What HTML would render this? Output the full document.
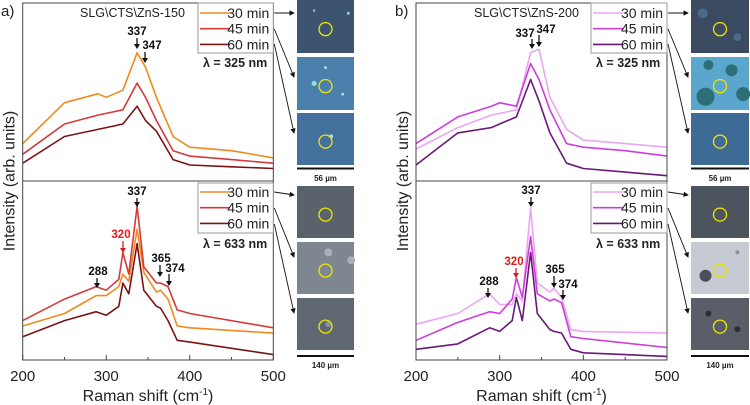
<!DOCTYPE html>
<html><head><meta charset="utf-8"><style>
html,body{margin:0;padding:0;background:#fff}
svg{display:block;font-family:"Liberation Sans",sans-serif}
</style></head><body>
<svg id="fig" width="750" height="405" viewBox="0 0 750 405">
<defs><marker id="ah" markerWidth="6" markerHeight="6" refX="5" refY="3" orient="auto"><path d="M0,0 L6,3 L0,6 z" fill="#111"/></marker></defs>
<g id="root"></g>
</svg>
<script>
// ---- data (Raman shift in cm^-1, intensity in arb. units, 0-100 per sub-panel) ----
const topShift = [200,250,290,300,320,337,347,360,380,400,450,500];
const botShift = [200,250,288,300,315,320,327,337,345,360,365,374,385,400,500];
const a325_30 = [21,44,49,47,51,72,64,47,25,19,17,13];
const a325_45 = [15,32,37,38,40,55,47,34,17,14,12,10];
const a325_60 = [10,25,29,30,32,42,34,28,12,9,8,7];
const a633_30 = [19,26,36,36,41,48,44,73,49,38,39,34,19,18,15];
const a633_45 = [22,34,41,39,45,60,48,86,52,43,43,41,28,26,18];
const a633_60 = [13,22,27,25,30,43,37,65,39,30,29,22,11,10,3];
const b325_30 = [18,30,37,38,40,72,74,47,29,23,21,19];
const b325_45 = [21,36,42,44,42,66,57,40,21,19,17,14];
const b325_60 = [9,27,30,32,36,57,45,27,10,7,5,3];
const b633_30 = [20,26,37,31,31,37,33,85,43,38,40,35,17,16,15];
const b633_45 = [11,21,27,26,34,46,35,69,37,33,34,32,13,12,7];
const b633_60 = [6,9,18,16,22,35,22,60,26,17,16,15,6,4,2];
const xTicks = [200,300,400,500];
const legendLabels = ["30 min","45 min","60 min"];

const NS="http://www.w3.org/2000/svg";
const root=document.getElementById('root');
function mk(tag,attrs,parent){const e=document.createElementNS(NS,tag);for(const k in attrs)e.setAttribute(k,attrs[k]);(parent||root).appendChild(e);return e;}
function txt(s,attrs,parent){const e=mk('text',attrs,parent);e.textContent=s;return e;}

function panel(cfg){
  const g=mk('g',{});
  
  
  const X0=cfg.x0,W=cfg.w,T=3,M=181,B=360;
  const sx=v=>X0+(v-200)/300*W;
  const syT=v=>M-v/100*(M-T);
  const syB=v=>B-v/100*(B-M);
  function line(xs,ys,sy,color,nm){
    const pts=xs.map((x,i)=>sx(x).toFixed(1)+','+sy(ys[i]).toFixed(1)).join(' ');
    const p=mk('polyline',{points:pts,fill:'none',stroke:color,'stroke-width':1.6,'stroke-linejoin':'round'},g);
    
    
  }
  cfg.top.forEach((ys,i)=>line(topShift,ys,syT,cfg.colors[i],'line-325nm-'+legendLabels[i].replace(' ','-')));
  cfg.bot.forEach((ys,i)=>line(botShift,ys,syB,cfg.colors[i],'line-633nm-'+legendLabels[i].replace(' ','-')));
  const fr=mk('rect',{x:X0,y:T,width:W,height:B-T,fill:'none',stroke:'#444','stroke-width':1},g);
  
  mk('line',{x1:X0,x2:X0+W,y1:M,y2:M,stroke:'#444','stroke-width':1},g);
  for(let v=200;v<=500;v+=50){const x=sx(v);mk('line',{x1:x,x2:x,y1:B,y2:B-(v%100?3:5),stroke:'#444'},g);}
  xTicks.forEach(v=>{const t=txt(String(v),{x:sx(v),y:381,'font-size':15,'text-anchor':'middle',fill:'#222'},g);
    });
  const xl=txt('',{x:X0+W/2,y:401,'font-size':16,'text-anchor':'middle',fill:'#222'},g);
  xl.innerHTML='Raman shift (cm<tspan dy="-6" font-size="10">-1</tspan><tspan dy="6">)</tspan>';
  
  const yl=txt('Intensity (arb. units)',{x:0,y:0,'font-size':16,'text-anchor':'middle',fill:'#222',transform:`translate(${X0-8},181) rotate(-90)`},g);
  
  const pl=txt(cfg.letter,{x:cfg.letterX,y:16,'font-size':15,fill:'#222'},g);
  
  const st=txt(cfg.sample,{x:cfg.sampleX,y:17,'font-size':12.5,fill:'#222'},g);
  
  [[3,13],[183,192]].forEach(([by,ry],k)=>{
    const lg=mk('g',{},g);
    
    
    mk('rect',{x:cfg.legX,y:by,width:X0+W-cfg.legX,height:50,fill:'#fff',stroke:'#999'},lg);
    legendLabels.forEach((l,i)=>{
      const y=ry+i*15.7;
      mk('line',{x1:cfg.legX+2,x2:cfg.legX+32,y1:y,y2:y,stroke:cfg.colors[i],'stroke-width':1.6},lg);
      const t=txt(l,{x:X0+W-4,y:y+5,'font-size':14,'text-anchor':'end',fill:'#222'},lg);
      
    });
  });
  const w1=txt('λ = 325 nm',{x:cfg.legX+5,y:67,'font-size':12.5,'font-weight':'bold',fill:'#222'},g);
  
  const w2=txt('λ = 633 nm',{x:cfg.legX+5,y:248,'font-size':12.5,'font-weight':'bold',fill:'#222'},g);
  
  cfg.ann.forEach(a=>{
    const t=txt(a[0],{x:a[1],y:a[2],'font-size':11.5,'font-weight':'bold','text-anchor':'middle',fill:a[6]||'#111'},g);
    
    mk('line',{x1:a[3],x2:a[3],y1:a[4],y2:a[5],stroke:a[6]||'#111','stroke-width':1.3},g);
    mk('path',{d:`M${a[3]-3},${a[5]-4} L${a[3]+3},${a[5]-4} L${a[3]},${a[5]+1} z`,fill:a[6]||'#111'},g);
  });
  const IX=cfg.imgX,IW=cfg.imgW;
  const rows=[[0,53],[57,53],[113,52],[186,52],[242,52],[298,52]];
  rows.forEach((r,i)=>{
    const im=mk('g',{},g);
    
    
    mk('rect',{x:IX,y:r[0],width:IW,height:r[1],fill:cfg.imgColors[i]},im);
    (cfg.blobs[i]||[]).forEach(b=>mk('circle',{cx:IX+b[0]*IW,cy:r[0]+b[1]*r[1],r:b[2],fill:b[3]},im));
    mk('circle',{cx:IX+IW*0.5,cy:r[0]+r[1]*0.55,r:6.5,fill:'none',stroke:'#f2e600','stroke-width':1.3},im);
  });
  mk('rect',{x:IX,y:167.5,width:IW,height:2,fill:'#111'},g);
  const s1=txt('56 µm',{x:IX+IW/2,y:181,'font-size':8,'font-weight':'bold','text-anchor':'middle',fill:'#222'},g);
  
  mk('rect',{x:IX,y:355,width:IW,height:2,fill:'#111'},g);
  const s2=txt('140 µm',{x:IX+IW/2,y:368,'font-size':8,'font-weight':'bold','text-anchor':'middle',fill:'#222'},g);
  
  const sX=X0+W+1,eX=IX-3;
  [[13,13],[29,77],[44,133],[192,195],[208,257],[224,313]].forEach(p=>{
    mk('line',{x1:sX,y1:p[0],x2:eX,y2:p[1],stroke:'#111','stroke-width':0.9,'marker-end':'url(#ah)'},g);
  });
}

panel({name:'panel-a',x0:22.7,w:250.6,letter:'a)',letterX:1,sample:'SLG\\CTS\\ZnS-150',sampleX:80,legX:198,
  colors:['#f08a1e','#d43a3a','#7a1414'],
  top:[a325_30,a325_45,a325_60],bot:[a633_30,a633_45,a633_60],
  ann:[['337',137,35,137,38,48],['347',152,49,145,52,62],['337',137,195,137,198,206],['320',121,238,123,241,252,'#e01b1b'],
       ['288',98,275,97,278,287],['365',161,262,160,265,276],['374',175,272,169,274,285]],
  imgX:297,imgW:57,
  imgColors:['#3c5470','#4b80ac','#43709c','#5a626c','#7e8692','#5f6773'],
  blobs:[[[0.9,0.25,1.5,'#8cc'],[0.3,0.2,1.2,'#8cc']],[[0.3,0.5,2.5,'#9de'],[0.5,0.2,1.5,'#9de'],[0.8,0.7,1.5,'#9de']],[[0.6,0.45,2,'#9de']],[],[[0.55,0.2,4,'#a8b0ba'],[0.95,0.35,4,'#a8b0ba']],[[0.55,0.5,3,'#8a929c']]]
});
panel({name:'panel-b',x0:416,w:251,letter:'b)',letterX:395,sample:'SLG\\CTS\\ZnS-200',sampleX:474,legX:591,
  colors:['#eaa6f2','#cc3ddc','#6a1878'],
  top:[b325_30,b325_45,b325_60],bot:[b633_30,b633_45,b633_60],
  ann:[['337',525,37,532,39,48],['347',546,33,539,35,46],['337',531,194,531,197,206],['320',514,265,516,268,277,'#e01b1b'],
       ['288',489,285,488,288,297],['365',555,273,554,276,287],['374',568,288,563,290,299]],
  imgX:691,imgW:58,
  imgColors:['#3a4a60','#5aa6cc','#3e6a96','#4c545e','#c6cad2','#5a5e68'],
  blobs:[[[0.2,0.25,5,'#4a6a88'],[0.8,0.7,4,'#4a6a88']],[[0.25,0.75,9,'#2e6e78'],[0.7,0.25,6,'#2e6e78'],[0.3,0.15,5,'#2e6e78'],[0.9,0.7,7,'#2e6e78']],[],[],[[0.25,0.65,6,'#4a4e56'],[0.8,0.2,2,'#8a8e96']],[[0.3,0.3,3,'#2a2e36'],[0.8,0.6,3,'#2a2e36']]]
});
</script>
</body></html>
